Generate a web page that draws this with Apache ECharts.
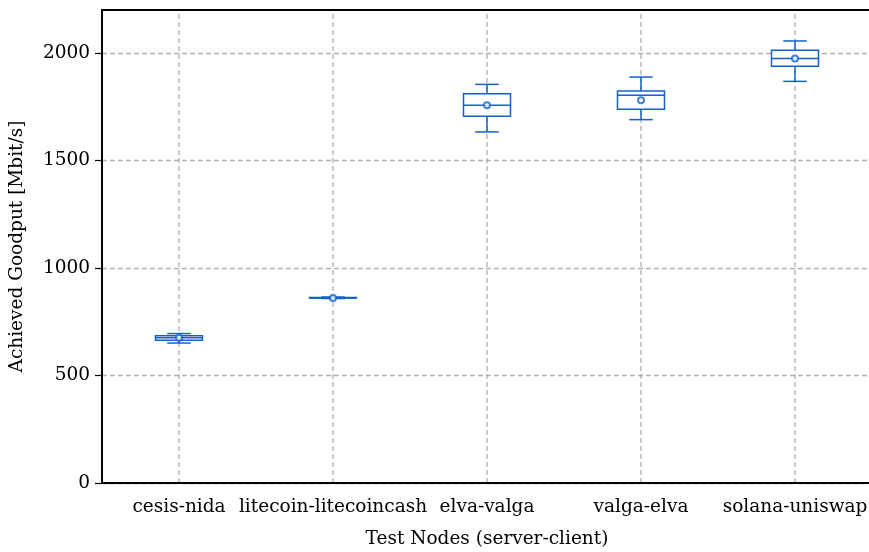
<!DOCTYPE html>
<html>
<head>
<meta charset="utf-8">
<script src="https://cdn.jsdelivr.net/npm/echarts@6/dist/echarts.min.js"></script>
<style>
  html, body { margin: 0; padding: 0; background: #fff; }
  #chart { width: 869px; height: 552px; }
</style>
</head>
<body>
<div id="chart"></div>
<script>
// Goodput per node pair: five-number summary plus mean (Mbit/s)
const categories = ['cesis-nida', 'litecoin-litecoincash', 'elva-valga', 'valga-elva', 'solana-uniswap'];
const whiskerLow  = [651, 858, 1633, 1690, 1868];
const q1          = [664, 860, 1706, 1738, 1938];
const median      = [676, 861, 1757, 1803, 1975];
const q3          = [685, 863, 1811, 1823, 2013];
const whiskerHigh = [695, 865, 1854, 1888, 2056];
const means       = [676, 861, 1757, 1780, 1975];

const yTicks = [0, 500, 1000, 1500, 2000];
const yMax = 2200;

const BLUE = '#1262cc';
const FONT = 'DejaVu Serif';
const FS = 18.5;

const boxData = categories.map((c, i) => [i, whiskerLow[i], q1[i], median[i], q3[i], whiskerHigh[i]]);
const meanData = categories.map((c, i) => [i, means[i]]);

function renderBox(params, api) {
  const x = api.value(0);
  const lo = api.coord([x, api.value(1)]);
  const b1 = api.coord([x, api.value(2)]);
  const md = api.coord([x, api.value(3)]);
  const b3 = api.coord([x, api.value(4)]);
  const hi = api.coord([x, api.value(5)]);
  const band = api.size([1, 0])[0];
  const bw = band * 0.305;
  const cw = bw / 2;
  const cx = lo[0];
  const st = { stroke: BLUE, lineWidth: 1.5, fill: null };
  return {
    type: 'group',
    children: [
      { type: 'line', shape: { x1: cx, y1: b1[1], x2: cx, y2: lo[1] }, style: st },
      { type: 'line', shape: { x1: cx, y1: b3[1], x2: cx, y2: hi[1] }, style: st },
      { type: 'line', shape: { x1: cx - cw / 2, y1: lo[1], x2: cx + cw / 2, y2: lo[1] }, style: st },
      { type: 'line', shape: { x1: cx - cw / 2, y1: hi[1], x2: cx + cw / 2, y2: hi[1] }, style: st },
      { type: 'rect', shape: { x: cx - bw / 2, y: b3[1], width: bw, height: b1[1] - b3[1] },
        style: { stroke: BLUE, lineWidth: 1.5, fill: '#fff' } },
      { type: 'line', shape: { x1: cx - bw / 2, y1: md[1], x2: cx + bw / 2, y2: md[1] }, style: st }
    ]
  };
}

// vertical dashed grid line through each category centre
function renderVGrid(params, api) {
  const x = api.value(0);
  const p0 = api.coord([x, 0]);
  const p1 = api.coord([x, yMax]);
  return {
    type: 'line',
    shape: { x1: p0[0], y1: p0[1], x2: p1[0], y2: p1[1] },
    style: { stroke: '#b0b0b0', lineWidth: 1.3, lineDash: [5, 3] }
  };
}

const chart = echarts.init(document.getElementById('chart'), null, { renderer: 'canvas' });
chart.setOption({
  animation: false,
  backgroundColor: '#fff',
  grid: {
    left: 102, top: 10, width: 770, height: 473,
    containLabel: false, outerBoundsMode: 'none',
    show: true, borderColor: '#000', borderWidth: 1.8, backgroundColor: 'transparent', z: 5
  },
  xAxis: {
    type: 'category',
    data: categories,
    boundaryGap: true,
    name: 'Test Nodes (server-client)',
    nameLocation: 'middle',
    nameGap: 47,
    nameTextStyle: { fontFamily: FONT, fontSize: FS, color: '#000' },
    axisLine: { lineStyle: { color: '#000', width: 1.8 } },
    axisTick: { alignWithLabel: true, length: 6, lineStyle: { color: '#000', width: 1.2 } },
    axisLabel: { fontFamily: FONT, fontSize: FS, color: '#000', margin: 15, interval: 0 },
    splitLine: { show: false }
  },
  yAxis: {
    type: 'value',
    min: 0,
    max: yMax,
    interval: 500,
    name: 'Achieved Goodput [Mbit/s]',
    nameLocation: 'middle',
    nameGap: 75,
    nameTextStyle: { fontFamily: FONT, fontSize: FS, color: '#000' },
    axisLine: { show: true, lineStyle: { color: '#000', width: 1.8 } },
    axisTick: { show: true, length: 7, customValues: yTicks, lineStyle: { color: '#000', width: 1.2 } },
    axisLabel: {
      fontFamily: FONT, fontSize: FS, color: '#000', margin: 12,
      formatter: v => (yTicks.indexOf(v) >= 0 ? String(v) : '')
    },
    splitLine: { show: true, lineStyle: { color: '#b0b0b0', width: 1.3, type: [5, 3] } }
  },
  series: [
    { type: 'custom', renderItem: renderVGrid, data: categories.map((c, i) => [i]), z: 1, silent: true },
    { type: 'custom', renderItem: renderBox, data: boxData, z: 3,
      encode: { x: 0, y: [1, 2, 3, 4, 5] } },
    { type: 'scatter', data: meanData, symbol: 'circle', symbolSize: 6, z: 4,
      itemStyle: { color: '#fff', borderColor: BLUE, borderWidth: 2 } }
  ]
});
</script>
</body>
</html>
